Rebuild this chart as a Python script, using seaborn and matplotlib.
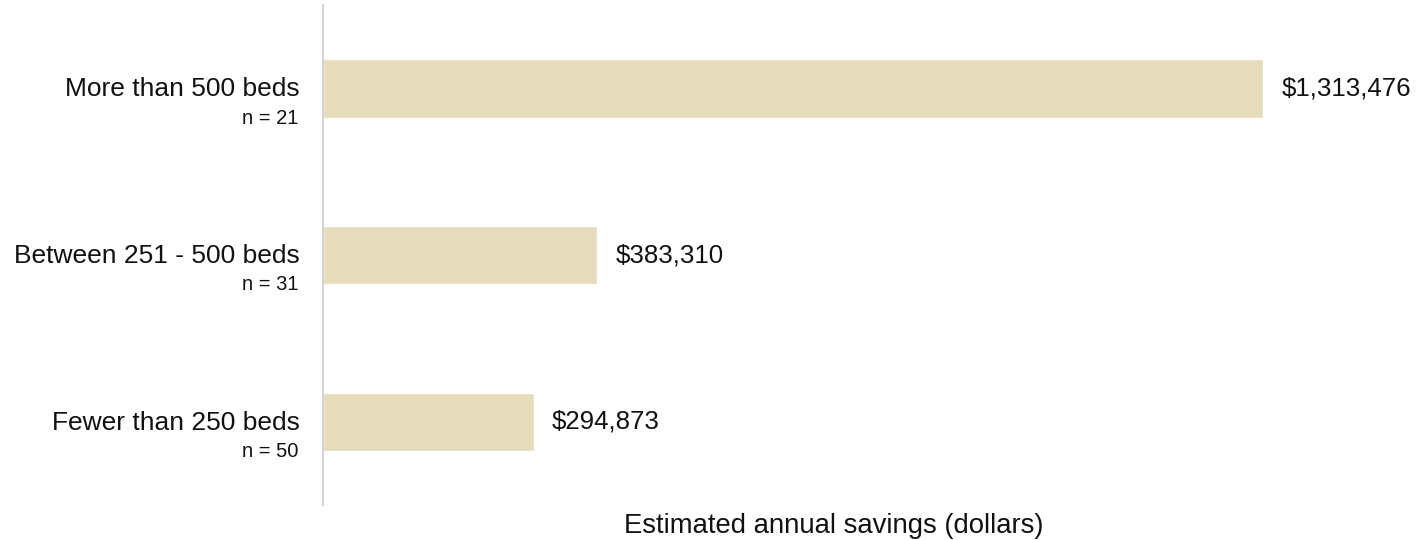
import matplotlib
matplotlib.use("Agg")
import matplotlib.pyplot as plt
import matplotlib.transforms as mtransforms
import pandas as pd
import seaborn as sns

# 資料
categories = ["More than 500 beds", "Between 251 - 500 beds", "Fewer than 250 beds"]
sample_sizes = ["n = 21", "n = 31", "n = 50"]
savings = [1313476, 383310, 294873]

BAR_COLOR = "#E6DBBB"
AXIS_COLOR = "#D3D3D3"
TEXT_COLOR = "#111111"

sns.set_theme(style="white")
plt.rcParams["font.family"] = ["Liberation Sans", "DejaVu Sans"]

df = pd.DataFrame({"category": categories, "savings": savings})

fig = plt.figure(figsize=(14.18, 5.4), dpi=100)
ax = fig.add_axes([0.2278, 0.0648, 0.7052, 0.9259])

sns.barplot(data=df, x="savings", y="category", color=BAR_COLOR,
            saturation=1, width=0.35, ax=ax)

ax.set_xlim(0, 1397000)
ax.set_ylim(2.5, -0.5)

# 數值標籤
ax.bar_label(ax.containers[0], labels=[f"${v:,.0f}" for v in savings],
             padding=13, fontsize=18.6, color=TEXT_COLOR)

# 類別標籤（兩行，不同字級）
ax.set_yticks([])
ax.set_xticks([])
trans = mtransforms.blended_transform_factory(ax.transAxes, ax.transData)
for i, (cat, n) in enumerate(zip(categories, sample_sizes)):
    ax.annotate(cat, xy=(0, i), xycoords=trans, xytext=(-16.5, -0.8),
                textcoords="offset points", ha="right", va="center",
                fontsize=19, color=TEXT_COLOR)
    ax.annotate(n, xy=(0, i), xycoords=trans, xytext=(-17.5, -21.5),
                textcoords="offset points", ha="right", va="center",
                fontsize=14.5, color=TEXT_COLOR)

for side in ["top", "right", "bottom"]:
    ax.spines[side].set_visible(False)
ax.spines["left"].set_color(AXIS_COLOR)
ax.spines["left"].set_linewidth(1.5)

ax.set_ylabel("")
ax.set_xlabel("Estimated annual savings (dollars)", fontsize=19.8,
              color=TEXT_COLOR)
ax.xaxis.set_label_coords(0.511, -0.016)

fig.savefig("out.png", dpi=100, facecolor="white")
